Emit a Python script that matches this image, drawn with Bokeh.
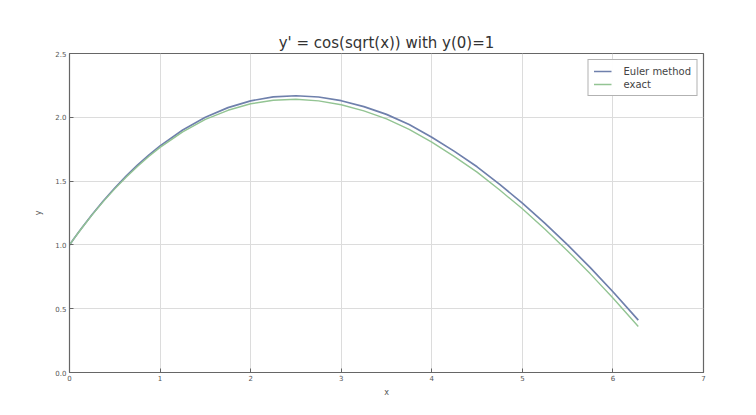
from bokeh.plotting import figure
from bokeh.models import Range1d, FixedTicker, NumeralTickFormatter, Legend, LegendItem
from bokeh.embed import file_html
from bokeh.resources import INLINE

x_vals = [0, 0.05, 0.1, 0.15, 0.25, 0.375, 0.5, 0.625, 0.75, 0.875, 1.0, 1.25, 1.5, 1.75,
          2.0, 2.25, 2.5, 2.75, 3.0, 3.25, 3.5, 3.75, 4.0, 4.25, 4.5, 4.75, 5.0, 5.25,
          5.5, 5.75, 6.0, 6.28]
euler_vals = [1.0, 1.050, 1.099, 1.146, 1.238, 1.346, 1.446, 1.539, 1.625, 1.704, 1.776,
              1.901, 2.001, 2.076, 2.129, 2.160, 2.169, 2.159, 2.130, 2.084, 2.023, 1.943,
              1.844, 1.733, 1.612, 1.474, 1.328, 1.169, 1.000, 0.822, 0.633, 0.41]
exact_vals = [1.0, 1.049, 1.097, 1.144, 1.235, 1.341, 1.439, 1.531, 1.615, 1.693, 1.764,
              1.886, 1.983, 2.055, 2.106, 2.134, 2.141, 2.129, 2.098, 2.050, 1.987, 1.906,
              1.805, 1.692, 1.570, 1.430, 1.283, 1.123, 0.953, 0.773, 0.584, 0.36]
x_ticks = [0, 1, 2, 3, 4, 5, 6, 7]
y_ticks = [0.0, 0.5, 1.0, 1.5, 2.0, 2.5]

FONT = "DejaVu Sans"

p = figure(width=740, height=399, output_backend="svg", toolbar_location=None,
           x_range=Range1d(0, 7), y_range=Range1d(0, 2.5),
           min_border_left=69, min_border_right=37, min_border_top=53, min_border_bottom=27,
           title="y' = cos(sqrt(x)) with y(0)=1")
p.title.align = "center"
p.title.text_font = FONT
p.title.text_font_size = "15px"
p.title.text_font_style = "normal"
p.title.text_color = "#333333"
p.title.standoff = 3

p.background_fill_color = "white"
p.border_fill_color = "white"
p.outline_line_color = "#666666"
p.outline_line_width = 1.2

for ax in [p.xaxis[0], p.yaxis[0]]:
    ax.axis_line_color = "#666666"
    ax.major_tick_in = 4
    ax.major_tick_out = 0
    ax.minor_tick_line_color = None
    ax.major_tick_line_color = "#666666"
    ax.major_label_text_font = FONT
    ax.major_label_text_font_size = "7px"
    ax.major_label_text_color = "#555555"
    ax.axis_label_text_font = FONT
    ax.axis_label_text_font_size = "8px"
    ax.axis_label_text_font_style = "normal"
    ax.axis_label_text_color = "#555555"

p.xaxis[0].ticker = FixedTicker(ticks=x_ticks)
p.yaxis[0].ticker = FixedTicker(ticks=y_ticks)
p.yaxis[0].formatter = NumeralTickFormatter(format="0.0")
p.xaxis[0].axis_label = "x"
p.yaxis[0].axis_label = "y"
p.xaxis[0].axis_label_standoff = 4
p.yaxis[0].axis_label_standoff = 9
p.xaxis[0].major_label_standoff = 2
p.yaxis[0].major_label_standoff = 3

p.xgrid.grid_line_color = "#dcdcdc"
p.ygrid.grid_line_color = "#dcdcdc"
p.xgrid.ticker = FixedTicker(ticks=x_ticks)
p.ygrid.ticker = FixedTicker(ticks=y_ticks)

r1 = p.line(x_vals, euler_vals, line_color="#6f80ac", line_width=1.7)
r2 = p.line(x_vals, exact_vals, line_color="#93c493", line_width=1.4)

legend = Legend(items=[LegendItem(label="Euler method", renderers=[r1]),
                       LegendItem(label="exact", renderers=[r2])],
                location="top_right")
legend.margin = 6
legend.padding = 5
legend.spacing = 1
legend.glyph_width = 18
legend.glyph_height = 12
legend.label_height = 12
legend.label_standoff = 12
legend.label_text_font = FONT
legend.label_text_font_size = "10px"
legend.label_text_color = "#444444"
legend.border_line_color = "#666666"
legend.border_line_width = 1
legend.background_fill_color = "white"
p.add_layout(legend, "center")

open("out.html", "w").write(file_html(p, INLINE))
